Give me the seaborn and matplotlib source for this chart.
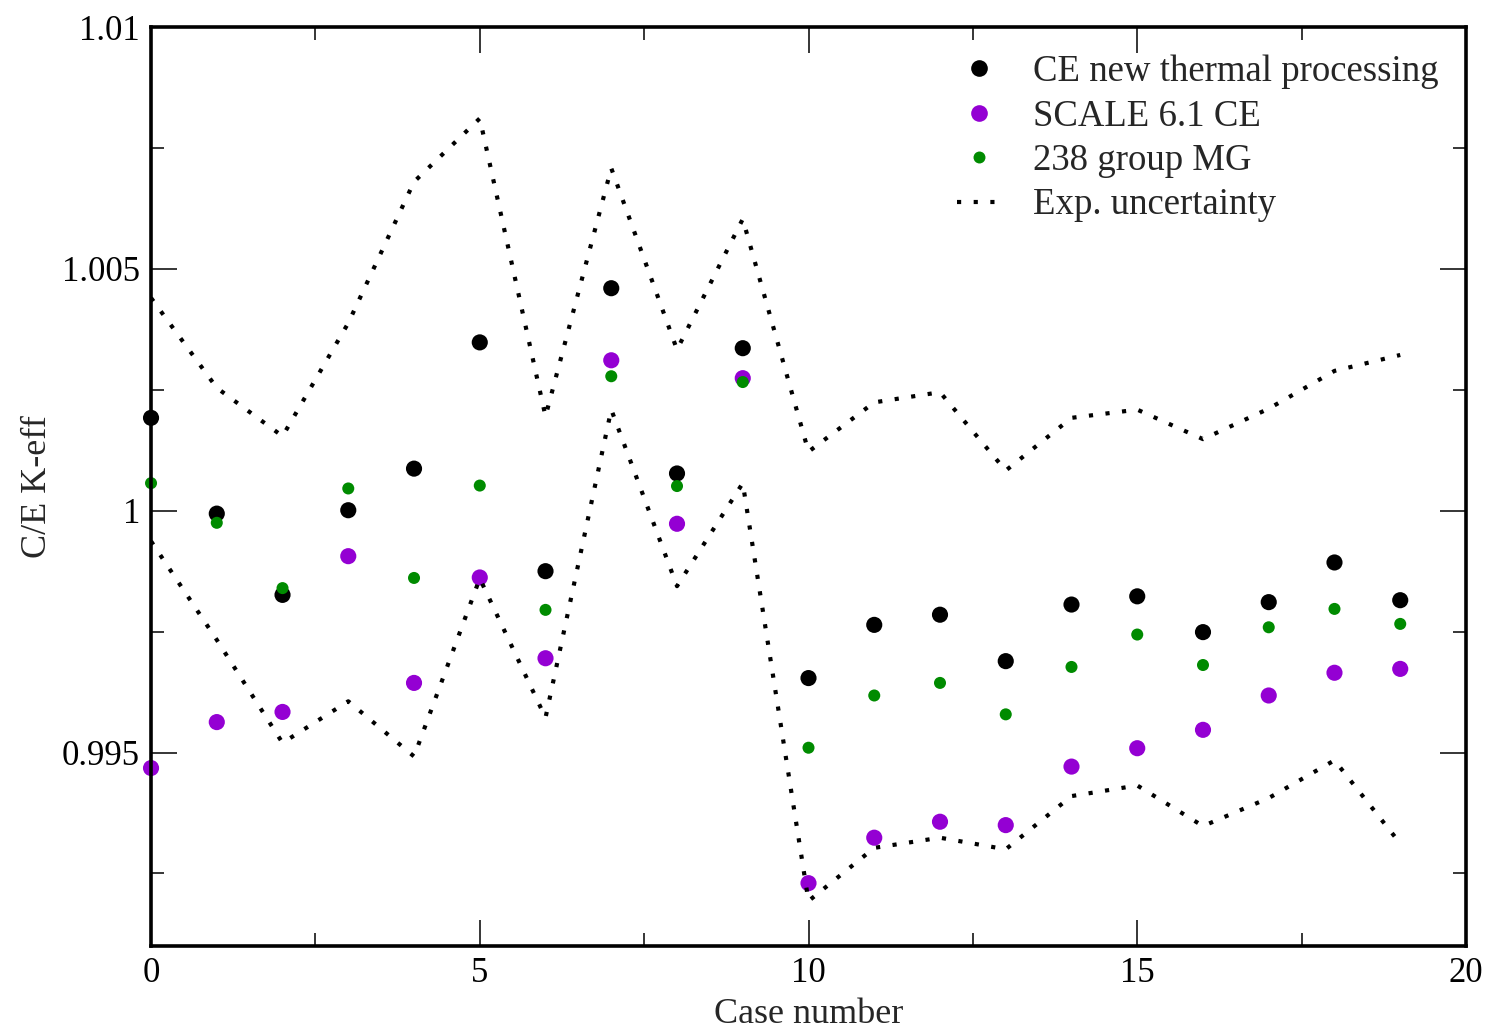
import matplotlib
matplotlib.use("Agg")
import matplotlib.pyplot as plt
from matplotlib.ticker import MultipleLocator, FuncFormatter
from matplotlib.lines import Line2D
import pandas as pd
import seaborn as sns

# Benchmark case indices
cases = list(range(20))

# Calculated-over-experiment k-eff for each method
ce_new = [1.00192, 0.99994, 0.99826, 1.00001, 1.00087, 1.00348, 0.99875, 1.00460,
          1.00077, 1.00336, 0.99654, 0.99764, 0.99785, 0.99689, 0.99806, 0.99823,
          0.99749, 0.99811, 0.99893, 0.99815]
scale61_ce = [0.99468, 0.99563, 0.99584, 0.99906, 0.99644, 0.99862, 0.99695, 1.00311,
              0.99973, 1.00274, 0.99230, 0.99324, 0.99357, 0.99350, 0.99471, 0.99509,
              0.99547, 0.99618, 0.99665, 0.99673]
mg238 = [1.00057, 0.99975, 0.99840, 1.00046, 0.99861, 1.00052, 0.99795, 1.00278,
         1.00051, 1.00266, 0.99510, 0.99618, 0.99644, 0.99579, 0.99677, 0.99744,
         0.99681, 0.99759, 0.99797, 0.99766]

# Experimental uncertainty envelope
exp_upper = [1.00440, 1.00254, 1.00154, 1.00388, 1.00680, 1.00811, 1.00195, 1.00708,
             1.00333, 1.00603, 1.00122, 1.00224, 1.00245, 1.00083, 1.00192, 1.00209,
             1.00148, 1.00211, 1.00289, 1.00322]
exp_lower = [0.99937, 0.99733, 0.99520, 0.99606, 0.99492, 0.99860, 0.99572, 1.00209,
             0.99844, 1.00057, 0.99193, 0.99303, 0.99324, 0.99300, 0.99410, 0.99432,
             0.99348, 0.99406, 0.99484, 0.99312]

labels = ["CE new thermal processing", "SCALE 6.1 CE", "238 group MG", "Exp. uncertainty"]

VIOLET = "#9400d3"
GREEN4 = "#008b00"
DOTS = (0, (1, 3))

sns.set_style("ticks")
plt.rcParams["font.family"] = ["Liberation Serif", "DejaVu Serif"]

fig = plt.figure(figsize=(14.88, 10.31), dpi=100)
ax = fig.add_axes([0.1015, 0.0824, 0.8837, 0.8914])

df = pd.DataFrame({"case": cases, "ce_new": ce_new, "scale61": scale61_ce,
                   "mg238": mg238, "upper": exp_upper, "lower": exp_lower})

sns.scatterplot(data=df, x="case", y="ce_new", color="black", s=135,
                edgecolor="none", ax=ax, zorder=3, clip_on=False)
sns.scatterplot(data=df, x="case", y="scale61", color=VIOLET, s=135,
                edgecolor="none", ax=ax, zorder=3, clip_on=False)
sns.scatterplot(data=df, x="case", y="mg238", color=GREEN4, s=75,
                edgecolor="none", ax=ax, zorder=3, clip_on=False)
for col in ["upper", "lower"]:
    sns.lineplot(data=df, x="case", y=col, color="black", lw=3.0,
                 linestyle=DOTS, dash_capstyle="butt", ax=ax, zorder=4)

ax.set_xlim(0, 20)
ax.set_ylim(0.991, 1.01)

ax.xaxis.set_major_locator(MultipleLocator(5))
ax.xaxis.set_minor_locator(MultipleLocator(2.5))
ax.yaxis.set_major_locator(MultipleLocator(0.005))
ax.yaxis.set_minor_locator(MultipleLocator(0.0025))
ax.xaxis.set_major_formatter(FuncFormatter(lambda v, p: f"{v:g}"))
ax.yaxis.set_major_formatter(FuncFormatter(lambda v, p: f"{round(v, 6):g}"))

ax.tick_params(which="both", direction="in", top=True, right=True,
               labelsize=25, colors="black", width=1.1, pad=8)
ax.tick_params(which="major", length=19)
ax.tick_params(which="minor", length=9.5)
for sp in ax.spines.values():
    sp.set_linewidth(2.6)
    sp.set_color("black")
    sp.set_zorder(5)

ax.set_xlabel("Case number", fontsize=26, labelpad=5.5)
ax.set_ylabel("C/E K-eff", fontsize=26, labelpad=6)

handles = [
    Line2D([], [], ls="none", marker="o", color="black", markeredgewidth=0, markersize=12),
    Line2D([], [], ls="none", marker="o", color=VIOLET, markeredgewidth=0, markersize=12),
    Line2D([], [], ls="none", marker="o", color=GREEN4, markeredgewidth=0, markersize=8.6),
    Line2D([], [], color="black", lw=3.0, linestyle=DOTS, dash_capstyle="butt"),
]
ax.legend(handles, labels, loc="upper right", frameon=False, fontsize=26.5,
          handlelength=1.2, handletextpad=0.85, labelspacing=0.27,
          borderaxespad=0.35, borderpad=0.4)

fig.savefig("out.png", dpi=100)
